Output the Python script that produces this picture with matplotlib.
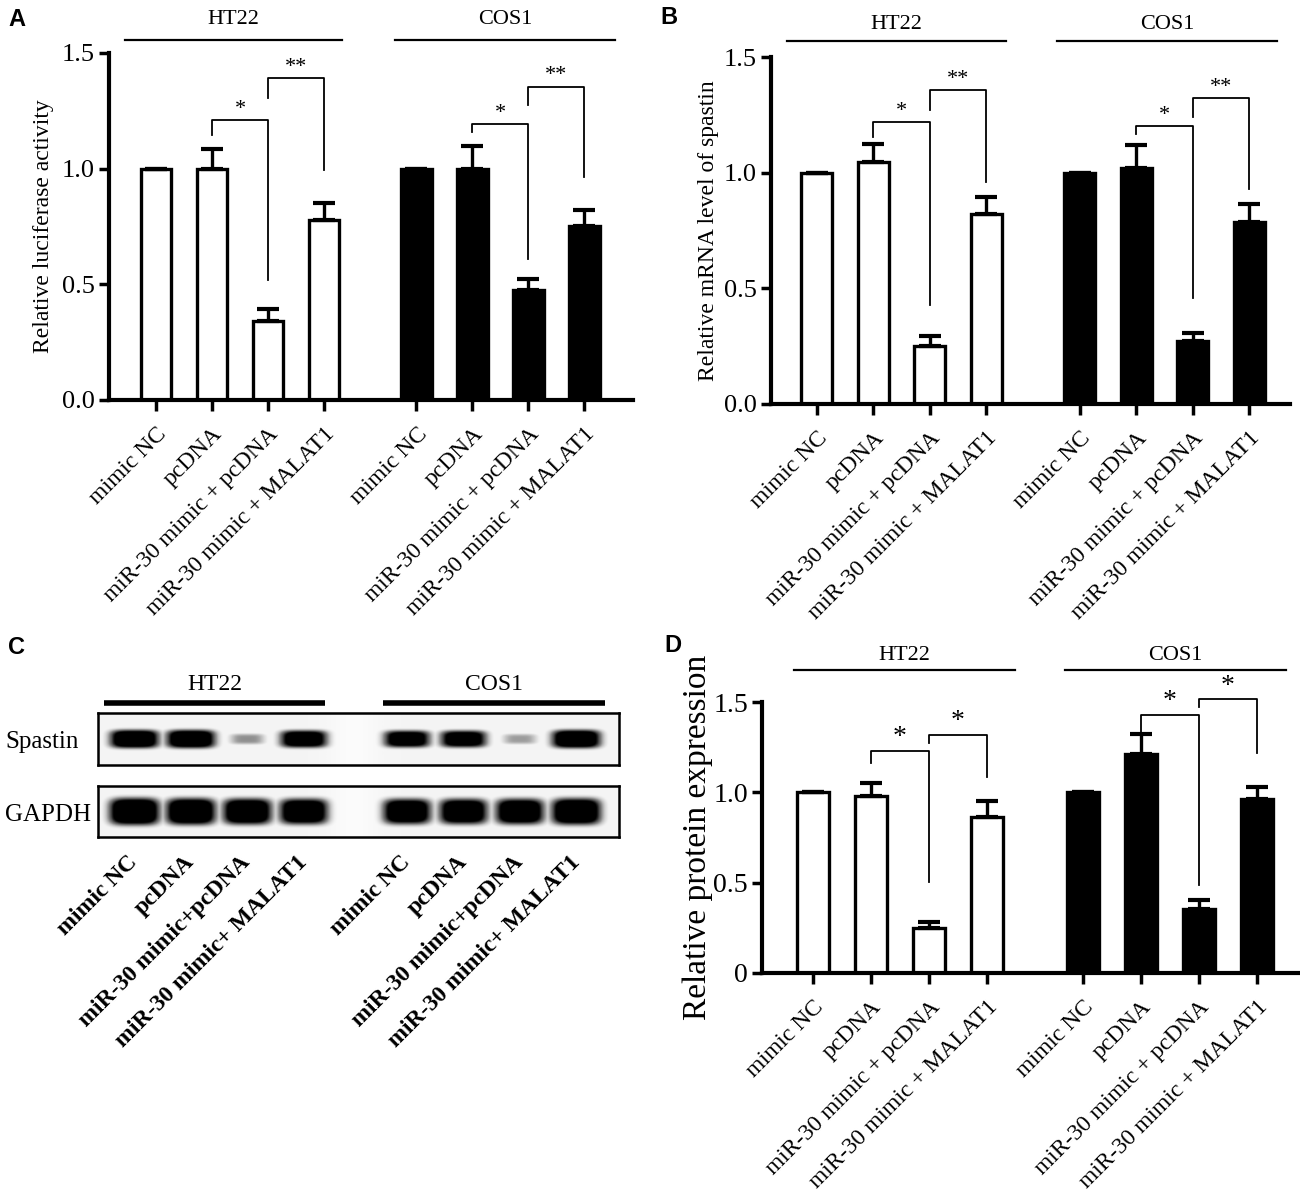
import numpy as np
import matplotlib.pyplot as plt

plt.rcParams['font.family'] = ['Liberation Serif', 'DejaVu Serif']

W, H = 1300, 1192

######################################################
# Data
groups = ['HT22', 'COS1']
conditions = ['mimic NC', 'pcDNA', 'miR-30 mimic + pcDNA', 'miR-30 mimic + MALAT1']
blot_conditions = ['mimic NC', 'pcDNA', 'miR-30 mimic+pcDNA', 'miR-30 mimic+ MALAT1']

# A: relative luciferase activity
luc_ht22 = [1.0, 1.0, 0.34, 0.78]
luc_ht22_err = [0.0, 0.085, 0.055, 0.07]
luc_cos1 = [1.0, 1.0, 0.475, 0.75]
luc_cos1_err = [0.0, 0.10, 0.05, 0.07]

# B: relative mRNA level of spastin
mrna_ht22 = [1.0, 1.045, 0.252, 0.82]
mrna_ht22_err = [0.0, 0.08, 0.04, 0.075]
mrna_cos1 = [1.0, 1.02, 0.273, 0.787]
mrna_cos1_err = [0.0, 0.10, 0.036, 0.076]

# D: relative protein expression
prot_ht22 = [1.0, 0.982, 0.249, 0.862]
prot_ht22_err = [0.0, 0.068, 0.033, 0.092]
prot_cos1 = [1.0, 1.212, 0.354, 0.963]
prot_cos1_err = [0.0, 0.11, 0.051, 0.065]

# significance brackets: (left bar, right bar, top, left end, right end, label)
sig_a = [(1, 2, 1.21, 1.145, 0.52, '*'), (2, 3, 1.39, 1.307, 0.993, '**'),
         (5, 6, 1.193, 1.16, 0.61, '*'), (6, 7, 1.355, 1.275, 0.964, '**')]
sig_b = [(1, 2, 1.219, 1.154, 0.427, '*'), (2, 3, 1.358, 1.272, 0.96, '**'),
         (5, 6, 1.2, 1.168, 0.459, '*'), (6, 7, 1.322, 1.24, 0.931, '**')]
sig_d = [(1, 2, 1.227, 1.16, 0.501, '*'), (2, 3, 1.319, 1.271, 1.087, '*'),
         (5, 6, 1.427, 1.311, 0.488, '*'), (6, 7, 1.514, 1.47, 1.215, '*')]

# C: western blot band strength per lane (0..1)
spastin_bands = [0.95, 0.95, 0.35, 0.88, 0.85, 0.85, 0.32, 0.95]
gapdh_bands = [1.0, 0.98, 0.95, 0.93, 0.92, 0.92, 0.93, 0.97]

positions = np.array([0, 1, 2, 3, 4.65, 5.65, 6.65, 7.65])
lane_pos = np.array([0, 1, 2, 3, 4.83, 5.83, 6.83, 7.83])


def px_axes(fig, x0, y0, x1, y1):
    return fig.add_axes([x0 / W, 1 - y1 / H, (x1 - x0) / W, (y1 - y0) / H])


def bar_panel(ax, ht, ht_err, cos, cos_err, sig, xlim, ylabel, ylabel_x,
              ylabel_size, ytick_size, ytick_labels, star_size, line_y, text_y, spans):
    ax.bar(positions[:4], ht, width=0.55, color='white', edgecolor='black', linewidth=2.4, zorder=2)
    ax.bar(positions[4:], cos, width=0.55, color='black', edgecolor='black', linewidth=2.4, zorder=2)
    ax.errorbar(positions[:4], ht, yerr=[np.zeros(4), ht_err], fmt='none', ecolor='black',
                elinewidth=2.4, capsize=8, capthick=3, zorder=3)
    ax.errorbar(positions[4:], cos, yerr=[np.zeros(4), cos_err], fmt='none', ecolor='black',
                elinewidth=2.4, capsize=8, capthick=3, zorder=3)
    for i, j, yt, yl, yr, lab in sig:
        x1, x2 = positions[i], positions[j]
        ax.plot([x1, x1, x2, x2], [yl, yt, yt, yr], color='black', lw=1.3, clip_on=False)
        ax.text((x1 + x2) / 2, yt + 0.005, lab, ha='center', va='bottom', fontsize=star_size)
    for (a, b), g in zip(spans, groups):
        ax.plot([a, b], [line_y, line_y], color='black', lw=1.6, clip_on=False)
        ax.text((a + b) / 2, text_y, g, ha='center', va='center', fontsize=16)
    ax.set_xlim(*xlim)
    ax.set_ylim(0, 1.5)
    ax.set_yticks([0, 0.5, 1.0, 1.5])
    ax.set_yticklabels(ytick_labels, fontsize=ytick_size)
    ax.set_xticks(positions)
    ax.set_xticklabels(conditions * 2, rotation=45, ha='right', va='top',
                       rotation_mode='anchor', fontsize=17)
    for s in ['top', 'right']:
        ax.spines[s].set_visible(False)
    ax.spines['left'].set_linewidth(3)
    ax.spines['bottom'].set_linewidth(3)
    ax.tick_params(axis='y', width=2.5, length=7, pad=3)
    ax.tick_params(axis='x', width=2.5, length=8, pad=9)
    ax.set_ylabel(ylabel, fontsize=ylabel_size)
    ax.yaxis.set_label_coords(ylabel_x, 0.5)


fig = plt.figure(figsize=(W / 100, H / 100), dpi=100)

# Panel A
axA = px_axes(fig, 109, 53, 633, 400)
bar_panel(axA, luc_ht22, luc_ht22_err, luc_cos1, luc_cos1_err, sig_a, (-0.84, 8.52),
          'Relative luciferase activity', (54 - 109) / 524, 17, 19,
          ['0.0', '0.5', '1.0', '1.5'], 16, 1.556, 1.643, [(-0.55, 3.32), (4.27, 8.2)])

# Panel B
axB = px_axes(fig, 771, 57, 1290, 404)
bar_panel(axB, mrna_ht22, mrna_ht22_err, mrna_cos1, mrna_cos1_err, sig_b, (-0.81, 8.37),
          'Relative mRNA level of spastin', (719 - 771) / 519, 17, 19,
          ['0.0', '0.5', '1.0', '1.5'], 16, 1.569, 1.64, [(-0.53, 3.35), (4.25, 8.14)])

# Panel D
axD = px_axes(fig, 762, 702, 1298, 973)
bar_panel(axD, prot_ht22, prot_ht22_err, prot_cos1, prot_cos1_err, sig_d, (-0.88, 8.36),
          'Relative protein expression', (713 - 762) / 536, 24, 20,
          ['0', '0.5', '1.0', '1.5'], 20, 1.677, 1.76, [(-0.33, 3.48), (4.34, 8.16)])

# Panel C: western blot
blot_xlim = (-0.64, 8.58)


def blot_image(strengths, half_height):
    x = np.linspace(blot_xlim[0], blot_xlim[1], 700)
    y = np.linspace(-1, 1, 80)
    X, Y = np.meshgrid(x, y)
    img = 0.09 - 0.06 * np.exp(-((X - 3.9) / 0.5) ** 2)
    for p, a in zip(lane_pos, strengths):
        wx = 0.46 * (0.55 + 0.45 * a)
        wy = half_height * (0.35 + 0.65 * a)
        band = 1.5 * a * np.exp(-np.abs((X - p) / wx) ** 4 - np.abs(Y / wy) ** 4)
        img = np.maximum(img, band)
    return np.clip(img, 0, 1)


axS = px_axes(fig, 98, 713, 619, 765)
axS.imshow(blot_image(spastin_bands, 0.38), cmap='Greys', vmin=0, vmax=1,
           extent=[blot_xlim[0], blot_xlim[1], -1, 1], aspect='auto', interpolation='bilinear')
axG = px_axes(fig, 98, 786, 619, 837)
axG.imshow(blot_image(gapdh_bands, 0.55), cmap='Greys', vmin=0, vmax=1,
           extent=[blot_xlim[0], blot_xlim[1], -1, 1], aspect='auto', interpolation='bilinear')
for ax in (axS, axG):
    ax.set_xlim(*blot_xlim)
    ax.set_yticks([])
    for s in ax.spines.values():
        s.set_linewidth(1.8)
axS.set_xticks([])
axG.set_xticks(lane_pos)
axG.set_xticklabels(blot_conditions * 2, rotation=45, ha='right', va='center',
                    rotation_mode='anchor', fontsize=17, fontweight='bold')
axG.tick_params(axis='x', length=0, pad=16)

trans = axS.get_xaxis_transform()
for (a, b), g in zip([(-0.53, 3.38), (4.41, 8.34)], groups):
    axS.plot([a, b], [1.19, 1.19], color='black', lw=4, transform=trans, clip_on=False,
             solid_capstyle='butt')
    axS.text((a + b) / 2, 1.54, g, transform=trans, ha='center', va='center', fontsize=17)

fig.text(5 / W, 1 - 742 / H, 'Spastin', ha='left', va='center', fontsize=18)
fig.text(5 / W, 1 - 815 / H, 'GAPDH', ha='left', va='center', fontsize=18)

# panel letters
for lab, x, y in [('A', 8, 20), ('B', 660, 18), ('C', 8, 648), ('D', 664, 645)]:
    fig.text(x / W, 1 - y / H, lab, ha='left', va='center', fontsize=17,
             fontweight='bold', family=['Liberation Sans', 'DejaVu Sans'])

fig.savefig('out.png', dpi=100)
